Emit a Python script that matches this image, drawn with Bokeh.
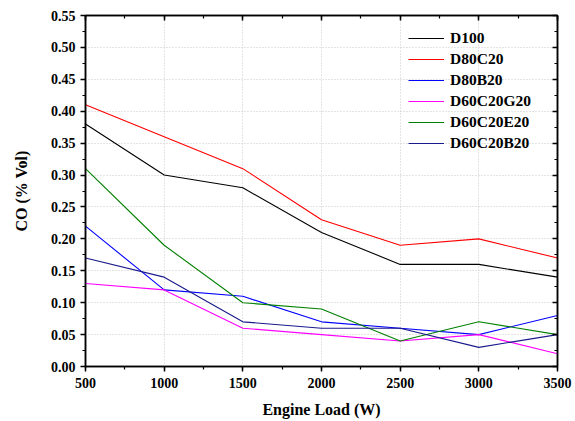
from bokeh.plotting import figure
from bokeh.models import (LinearAxis, Legend, LegendItem, FixedTicker, Range1d,
                          NumeralTickFormatter, CustomJSTickFormatter)
from bokeh.embed import file_html
from bokeh.resources import INLINE

loads = [500, 1000, 1500, 2000, 2500, 3000, 3500]
d100 = [0.38, 0.30, 0.28, 0.21, 0.16, 0.16, 0.14]
d80c20 = [0.41, 0.36, 0.31, 0.23, 0.19, 0.20, 0.17]
d80b20 = [0.22, 0.12, 0.11, 0.07, 0.06, 0.05, 0.08]
d60c20g20 = [0.13, 0.12, 0.06, 0.05, 0.04, 0.05, 0.02]
d60c20e20 = [0.31, 0.19, 0.10, 0.09, 0.04, 0.07, 0.05]
d60c20b20 = [0.17, 0.14, 0.07, 0.06, 0.06, 0.03, 0.05]

names = ["D100", "D80C20", "D80B20", "D60C20G20", "D60C20E20", "D60C20B20"]
series = [d100, d80c20, d80b20, d60c20g20, d60c20e20, d60c20b20]
colors = ["#000000", "#ff0000", "#0000ff", "#ff00ff", "#008000", "#1a1a8c"]

FONT = "Liberation Serif"

p = figure(width=575, height=421, output_backend="svg", toolbar_location=None,
           x_range=Range1d(500, 3500), y_range=Range1d(0, 0.55),
           min_border_left=85, min_border_right=18, min_border_top=15, min_border_bottom=55)
p.background_fill_color = "white"
p.border_fill_color = "white"
p.outline_line_color = "black"
p.outline_line_width = 1.5

xminor = [500 + 250 * i for i in range(13)]
yvals = [round(0.05 * i, 2) for i in range(12)]
yminor = [round(0.025 * i, 3) for i in range(23)]
xt = FixedTicker(ticks=loads, minor_ticks=xminor)
yt = FixedTicker(ticks=yvals, minor_ticks=yminor)

p.xaxis.ticker = xt
p.yaxis.ticker = yt
p.yaxis.formatter = NumeralTickFormatter(format="0.00")

for ax in [p.xaxis[0], p.yaxis[0]]:
    ax.axis_line_width = 1.5
    ax.major_tick_out = 5
    ax.major_tick_in = 0
    ax.minor_tick_out = 3
    ax.minor_tick_in = 0
    ax.major_tick_line_width = 1.5
    ax.minor_tick_line_width = 1.2
    ax.major_label_text_font = FONT
    ax.major_label_text_font_style = "bold"
    ax.major_label_text_font_size = "14px"
    ax.major_label_text_color = "black"
    ax.axis_label_text_font = FONT
    ax.axis_label_text_font_style = "bold"
    ax.axis_label_text_font_size = "16px"
    ax.axis_label_text_color = "black"

p.xaxis.axis_label = "Engine Load (W)"
p.yaxis.axis_label = "CO (% Vol)"
p.xaxis.major_label_standoff = 6
p.xaxis.axis_label_standoff = 10
p.yaxis.major_label_standoff = 5
p.yaxis.axis_label_standoff = 18

top = LinearAxis(ticker=FixedTicker(ticks=loads, minor_ticks=xminor))
right = LinearAxis(ticker=FixedTicker(ticks=yvals, minor_ticks=yminor))
for ax in [top, right]:
    ax.major_tick_out = 0
    ax.major_tick_in = 5
    ax.minor_tick_out = 0
    ax.minor_tick_in = 3
    ax.major_tick_line_width = 1.5
    ax.minor_tick_line_width = 1.2
    ax.axis_line_width = 1.5
    ax.formatter = CustomJSTickFormatter(code="return '';")
    ax.major_label_standoff = 0
p.add_layout(top, "above")
p.add_layout(right, "right")

p.xgrid.ticker = xt
p.ygrid.ticker = yt
for g in [p.xgrid, p.ygrid]:
    g.grid_line_color = "#c8c8c8"
    g.grid_line_dash = "1 2"
    g.grid_line_width = 1

items = []
for name, ys, c in zip(names, series, colors):
    r = p.line(loads, ys, line_color=c, line_width=1.1)
    items.append(LegendItem(label=name, renderers=[r]))

legend = Legend(items=items, location=(323, 214))
legend.border_line_color = None
legend.background_fill_alpha = 0
legend.label_text_font = FONT
legend.label_text_font_style = "bold"
legend.label_text_font_size = "15.5px"
legend.label_text_color = "black"
legend.glyph_width = 36
legend.glyph_height = 18
legend.label_height = 18
legend.spacing = 3
legend.padding = 4
legend.margin = 0
legend.label_standoff = 6
p.add_layout(legend)

open("out.html", "w").write(file_html(p, INLINE))
